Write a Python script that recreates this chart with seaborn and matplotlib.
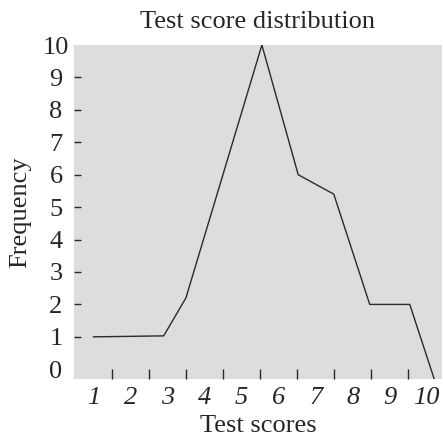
import numpy as np
import pandas as pd
import matplotlib
matplotlib.use("Agg")
import matplotlib.pyplot as plt
import seaborn as sns

# Frequency polygon (x in score units, bins centred on labels).
scores = [1.0, 2.9, 3.5, 5.55, 6.53, 7.49, 8.46, 9.54, 10.2]
frequency = [1.0, 1.03, 2.2, 10.0, 6.0, 5.4, 2.0, 2.0, -0.3]

# Axis labels.
x_labels = [str(i) for i in range(1, 11)]
y_labels = [str(i) for i in range(0, 11)]
bin_edges = [i + 0.5 for i in range(1, 10)]

df = pd.DataFrame({"score": scores, "freq": frequency})

sns.set_style("white")
plt.rcParams["font.family"] = ["Liberation Serif", "DejaVu Serif"]

fig = plt.figure(figsize=(4.43, 4.41), dpi=100)
ax = fig.add_axes([74 / 443, 62 / 441, 368 / 443, 334 / 441])
ax.set_facecolor("#dcdddf")

sns.lineplot(data=df, x="score", y="freq", ax=ax, color="#2a2a2a",
             linewidth=1.0, sort=False)

ax.set_xlim(0.48, 10.41)
ax.set_ylim(-0.3, 10.0)

# Labels centred on the bins, tick marks on the bin edges.
ax.set_xticks(range(1, 11))
ax.set_xticklabels(x_labels, fontstyle="italic", fontsize=19)
ax.set_xticks(bin_edges, minor=True)
ax.tick_params(axis="x", which="major", bottom=True, length=0, pad=6)
ax.tick_params(axis="x", which="minor", bottom=True, direction="in",
               length=7, width=1.0, color="#2a2a2a")

# y labels are centred in a column left of the panel.
ax.set_yticks(range(0, 11))
ax.set_yticklabels(y_labels, fontsize=19, ha="center")
ax.tick_params(axis="y", left=True, direction="in", length=5, width=1.0,
               color="#2a2a2a", pad=13)
ylines = ax.yaxis.get_ticklines()
for tl in [ylines[0], ylines[-2]]:
    tl.set_visible(False)

for s in ax.spines.values():
    s.set_visible(False)

ax.set_xlabel("Test scores", fontsize=19, labelpad=4)
ax.set_ylabel("Frequency", fontsize=19, labelpad=8)
ax.set_title("Test score distribution", fontsize=19, pad=12)

fig.savefig("out.png", dpi=100)
